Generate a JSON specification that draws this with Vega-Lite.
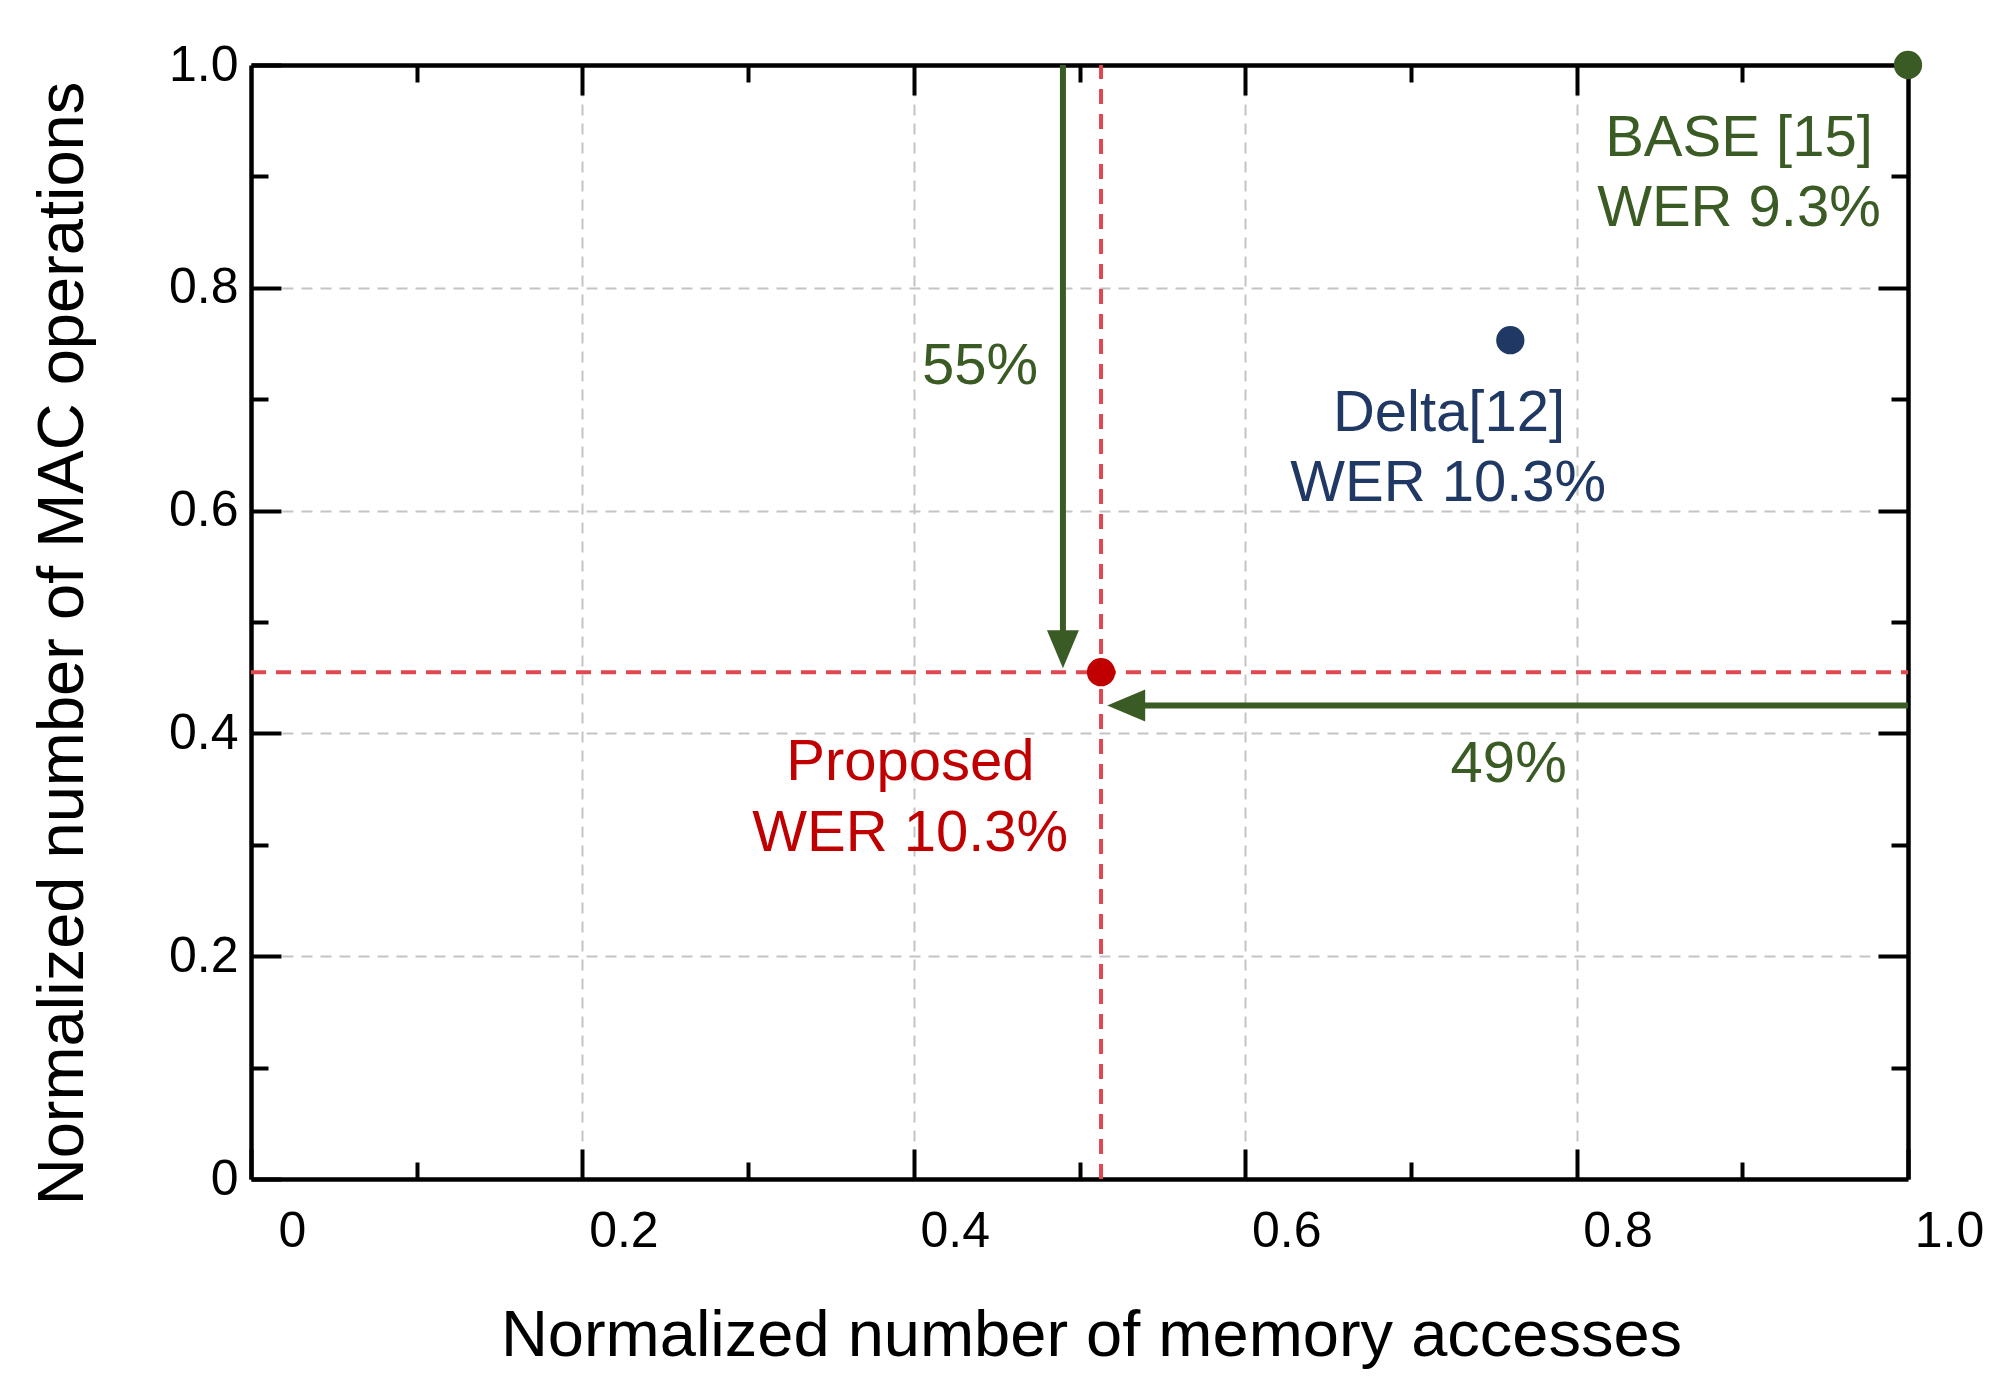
{
  "$schema": "https://vega.github.io/schema/vega-lite/v6.json",
  "width": 1657,
  "height": 1114,
  "autosize": {"type": "none"},
  "padding": {"left": 251, "top": 65, "right": 103, "bottom": 220},
  "background": "white",
  "config": {
    "view": {"stroke": null},
    "font": "Liberation Sans",
    "axis": {
      "domainColor": "black",
      "domainWidth": 4.5,
      "tickColor": "black",
      "tickWidth": 4,
      "labelColor": "black",
      "titleColor": "black",
      "labelFont": "Liberation Sans",
      "labelFontSize": 50,
      "titleFont": "Liberation Sans",
      "titleFontSize": 65,
      "titleFontWeight": "normal",
      "gridColor": "#c4c4c4",
      "gridDash": [11, 8],
      "gridWidth": 2
    }
  },
  "datasets": {
    "points": [
      {"model": "BASE [15]", "memory": 1.0, "mac": 1.0},
      {"model": "Delta[12]", "memory": 0.76, "mac": 0.753},
      {"model": "Proposed", "memory": 0.513, "mac": 0.455}
    ],
    "refLines": [
      {"memory": 0.513, "memory2": 0.513, "mac": 0.0, "mac2": 1.0},
      {"memory": 0.0, "memory2": 1.0, "mac": 0.455, "mac2": 0.455}
    ],
    "arrows": [
      {"label": "55%", "memory": 0.49, "mac": 1.0, "memory2": 0.49, "mac2": 0.47, "tipMemory": 0.49, "tipMac": 0.4585, "dir": "down"},
      {"label": "49%", "memory": 1.0, "mac": 0.425, "memory2": 0.53, "mac2": 0.425, "tipMemory": 0.5167, "tipMac": 0.425, "dir": "left"}
    ],
    "labels": [
      {"text": "BASE [15]", "group": "BASE", "memory": 0.898, "mac": 0.934},
      {"text": "WER 9.3%", "group": "BASE", "memory": 0.898, "mac": 0.871},
      {"text": "Delta[12]", "group": "Delta", "memory": 0.723, "mac": 0.687},
      {"text": "WER 10.3%", "group": "Delta", "memory": 0.7225, "mac": 0.624},
      {"text": "Proposed", "group": "Proposed", "memory": 0.398, "mac": 0.373},
      {"text": "WER 10.3%", "group": "Proposed", "memory": 0.3978, "mac": 0.31},
      {"text": "55%", "group": "BASE", "memory": 0.44, "mac": 0.729},
      {"text": "49%", "group": "BASE", "memory": 0.759, "mac": 0.372}
    ]
  },
  "resolve": {"axis": {"x": "independent", "y": "independent"}},
  "layer": [
    {
      "data": {"name": "refLines"},
      "mark": {"type": "rule", "color": "#e0474f", "strokeWidth": 4, "strokeDash": [15, 10]},
      "encoding": {
        "x": {
          "field": "memory", "type": "quantitative",
          "scale": {"domain": [0, 1], "nice": false},
          "axis": {
            "orient": "bottom",
            "title": "Normalized number of memory accesses",
            "titleX": 840, "titleY": 156, "titleBaseline": "middle",
            "values": [0, 0.2, 0.4, 0.6, 0.8, 1.0],
            "labelExpr": "datum.value == 0 ? '0' : format(datum.value, '.1f')",
            "grid": false,
            "tickSize": -30,
            "labelPadding": 82,
            "labelBaseline": "middle",
            "labelOffset": 41,
            "labelFlush": false,
            "labelOverlap": false
          }
        },
        "x2": {"field": "memory2"},
        "y": {
          "field": "mac", "type": "quantitative",
          "scale": {"domain": [0, 1], "nice": false},
          "axis": {
            "orient": "left",
            "title": "Normalized number of MAC operations",
            "titleX": -189, "titleY": 578, "titleAngle": -90, "titleBaseline": "middle", "titleAlign": "center",
            "values": [0, 0.2, 0.4, 0.6, 0.8, 1.0],
            "labelExpr": "datum.value == 0 ? '0' : format(datum.value, '.1f')",
            "grid": false,
            "tickSize": -30,
            "labelPadding": 43,
            "labelFlush": false,
            "labelOverlap": false
          }
        },
        "y2": {"field": "mac2"}
      }
    },
    {
      "data": {"name": "arrows"},
      "mark": {"type": "rule", "color": "#3b5b25", "strokeWidth": 6},
      "encoding": {
        "x": {
          "field": "memory", "type": "quantitative",
          "scale": {"domain": [0, 1], "nice": false},
          "axis": {"orient": "top", "title": null, "values": [0.2, 0.4, 0.6, 0.8], "labels": false, "grid": true, "tickSize": -30}
        },
        "x2": {"field": "memory2"},
        "y": {
          "field": "mac", "type": "quantitative",
          "scale": {"domain": [0, 1], "nice": false},
          "axis": {"orient": "right", "title": null, "values": [0.2, 0.4, 0.6, 0.8], "labels": false, "grid": true, "tickSize": -30}
        },
        "y2": {"field": "mac2"}
      }
    },
    {
      "data": {"name": "arrows"},
      "mark": {"type": "point", "filled": true, "opacity": 1, "size": 1444, "color": "#3b5b25"},
      "encoding": {
        "x": {
          "field": "tipMemory", "type": "quantitative",
          "scale": {"domain": [0, 1], "nice": false},
          "axis": {"orient": "bottom", "title": null, "values": [0.1, 0.3, 0.5, 0.7, 0.9], "labels": false, "domain": false, "grid": false, "tickSize": -17}
        },
        "y": {
          "field": "tipMac", "type": "quantitative",
          "scale": {"domain": [0, 1], "nice": false},
          "axis": {"orient": "left", "title": null, "values": [0.1, 0.3, 0.5, 0.7, 0.9], "labels": false, "domain": false, "grid": false, "tickSize": -17}
        },
        "shape": {
          "field": "dir", "type": "nominal",
          "scale": {"domain": ["down", "left"], "range": ["M-0.84,-2L0.84,-2L0,0Z", "M0,0L2,-0.84L2,0.84Z"]},
          "legend": null
        }
      }
    },
    {
      "data": {"name": "points"},
      "mark": {"type": "circle", "size": 800, "opacity": 1, "clip": false},
      "encoding": {
        "x": {
          "field": "memory", "type": "quantitative",
          "scale": {"domain": [0, 1], "nice": false},
          "axis": {"orient": "top", "title": null, "values": [0.1, 0.3, 0.5, 0.7, 0.9], "labels": false, "domain": false, "grid": false, "tickSize": -17}
        },
        "y": {
          "field": "mac", "type": "quantitative",
          "scale": {"domain": [0, 1], "nice": false},
          "axis": {"orient": "right", "title": null, "values": [0.1, 0.3, 0.5, 0.7, 0.9], "labels": false, "domain": false, "grid": false, "tickSize": -17}
        },
        "color": {
          "field": "model", "type": "nominal",
          "scale": {"domain": ["BASE [15]", "Delta[12]", "Proposed"], "range": ["#3b5b25", "#203864", "#c00000"]},
          "legend": null
        }
      }
    },
    {
      "data": {"name": "labels"},
      "mark": {"type": "text", "font": "Liberation Sans", "fontSize": 58, "align": "center", "baseline": "middle"},
      "encoding": {
        "x": {"field": "memory", "type": "quantitative", "scale": {"domain": [0, 1], "nice": false}, "axis": null},
        "y": {"field": "mac", "type": "quantitative", "scale": {"domain": [0, 1], "nice": false}, "axis": null},
        "text": {"field": "text"},
        "color": {
          "field": "group", "type": "nominal",
          "scale": {"domain": ["BASE", "Delta", "Proposed"], "range": ["#3b5b25", "#203864", "#c00000"]},
          "legend": null
        }
      }
    }
  ]
}
